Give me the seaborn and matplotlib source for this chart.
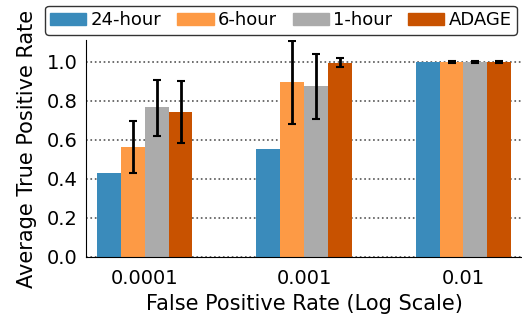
import pandas as pd
import seaborn as sns
import matplotlib.pyplot as plt
import numpy as np

# Data
fpr_labels = ["0.0001", "0.001", "0.01"]
methods = ["24-hour", "6-hour", "1-hour", "ADAGE"]
colors = ["#3A8BBB", "#FD9A45", "#ABABAB", "#C85200"]

tpr_24h = [0.43, 0.555, 1.0]
tpr_6h = [0.565, 0.895, 1.0]
tpr_1h = [0.77, 0.875, 1.0]
tpr_adage = [0.745, 0.997, 1.0]

# error bar ends (low, high); 24-hour has none
err_6h_low = [0.43, 0.68, 0.997]
err_6h_high = [0.695, 1.11, 1.003]
err_1h_low = [0.62, 0.71, 0.997]
err_1h_high = [0.91, 1.04, 1.003]
err_adage_low = [0.585, 0.975, 0.997]
err_adage_high = [0.90, 1.02, 1.003]

df = pd.DataFrame({
    "fpr": fpr_labels * 4,
    "method": np.repeat(methods, 3),
    "tpr": tpr_24h + tpr_6h + tpr_1h + tpr_adage,
})

sns.set_style("white")
plt.rcParams["font.family"] = ["DejaVu Sans"]
plt.rcParams["text.color"] = "black"
plt.rcParams["axes.labelcolor"] = "black"
plt.rcParams["xtick.color"] = "black"
plt.rcParams["ytick.color"] = "black"

fig = plt.figure(figsize=(5.22, 3.22), dpi=100)
ax = fig.add_axes([0.165, 0.202, 0.835, 0.674])

sns.barplot(data=df, x="fpr", y="tpr", hue="method", order=fpr_labels,
            hue_order=methods, palette=colors, width=0.6, errorbar=None,
            saturation=1, linewidth=0, ax=ax, legend=False)

# error bars placed on the drawn bars
err_lows = [None, err_6h_low, err_1h_low, err_adage_low]
err_highs = [None, err_6h_high, err_1h_high, err_adage_high]
vals = [tpr_24h, tpr_6h, tpr_1h, tpr_adage]
bars = ax.patches
for m in range(1, 4):
    for g in range(3):
        p = bars[m * 3 + g]
        xc = p.get_x() + p.get_width() / 2
        v = vals[m][g]
        ax.errorbar(xc, v, yerr=[[v - err_lows[m][g]], [err_highs[m][g] - v]],
                    fmt="none", ecolor="black", elinewidth=2, capsize=3,
                    capthick=1.5)

ax.set_xlim(-0.367, 2.367)
ax.set_ylim(0, 1.113)
ax.set_yticks([0.0, 0.2, 0.4, 0.6, 0.8, 1.0])
ax.yaxis.grid(True, linestyle=":", color="#555555", linewidth=1.2)
ax.set_axisbelow(True)
ax.tick_params(direction="in", length=3, labelsize=14, pad=6)
ax.tick_params(axis="x", pad=9)
sns.despine(ax=ax)
ax.spines["left"].set_color("black")
ax.spines["bottom"].set_color("black")

ax.set_xlabel("False Positive Rate (Log Scale)", fontsize=15, labelpad=4)
ax.set_ylabel("Average True Positive Rate", fontsize=15, labelpad=7)

handles = [plt.Rectangle((0, 0), 1, 1, color=c) for c in colors]
leg = fig.legend(handles, methods, loc="upper right",
                 bbox_to_anchor=(0.997, 0.993), ncol=4, fontsize=13,
                 handlelength=2.0, handletextpad=0.22, columnspacing=0.9,
                 borderpad=0.3, borderaxespad=0.2, frameon=True, fancybox=True)
leg.get_frame().set_edgecolor("black")
leg.get_frame().set_linewidth(1.0)

fig.savefig("out.png", dpi=100)
